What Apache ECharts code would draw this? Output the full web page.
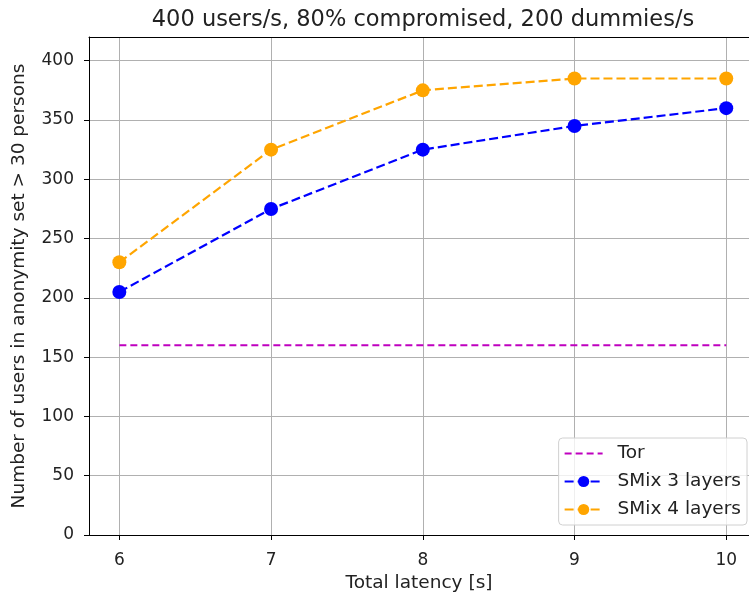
<!DOCTYPE html>
<html>
<head>
<meta charset="utf-8">
<script src="https://cdn.jsdelivr.net/npm/echarts@6/dist/echarts.min.js"></script>
<style>html,body{margin:0;padding:0;background:#fff;overflow:hidden}#c{width:749px;height:596px}</style>
</head>
<body>
<div id="c"></div>
<script>
const latency = [6, 7, 8, 9, 10];
const torValues = [160, 160, 160, 160, 160];
const smix3Values = [205, 275, 325, 345, 360];
const smix4Values = [230, 325, 375, 385, 385];
const xTicks = [6, 7, 8, 9, 10];
const yTicks = [0, 50, 100, 150, 200, 250, 300, 350, 400];

const font = 'DejaVu Sans';
const txt = '#222';
const pairs = v => latency.map((x, i) => [x, v[i]]);

const chart = echarts.init(document.getElementById('c'), null, {renderer: 'canvas'});
chart.setOption({
  animation: false,
  title: {
    text: '400 users/s, 80% compromised, 200 dummies/s',
    left: 418, top: 4, textAlign: 'center',
    textStyle: {fontFamily: font, fontSize: 22.5, fontWeight: 'normal', color: txt}
  },
  grid: {left: 89, right: 0, top: 37, bottom: 61, outerBoundsMode: 'none', show: false},
  xAxis: [{
    type: 'value', min: 5.8, max: 10.15,
    name: 'Total latency [s]', nameLocation: 'middle', nameGap: 38,
    nameTextStyle: {fontFamily: font, fontSize: 18.5, color: txt},
    axisLine: {show: true, onZero: false, lineStyle: {color: '#000', width: 1}},
    axisTick: {show: true, length: 5, lineStyle: {color: '#000'}, customValues: xTicks},
    axisLabel: {customValues: xTicks, fontFamily: font, fontSize: 17, color: txt, margin: 17},
    splitLine: {show: true, lineStyle: {color: '#b0b0b0', width: 1}}
  }, {
    type: 'value', position: 'top', min: 5.8, max: 10.15,
    axisLine: {show: true, onZero: false, lineStyle: {color: '#000', width: 1}},
    axisTick: {show: false}, axisLabel: {show: false}, splitLine: {show: false}
  }],
  yAxis: {
    type: 'value', min: 0, max: 420,
    name: 'Number of users in anonymity set > 30 persons', nameLocation: 'middle', nameGap: 60,
    nameTextStyle: {fontFamily: font, fontSize: 18.5, color: txt},
    axisLine: {show: true, lineStyle: {color: '#000', width: 1}},
    axisTick: {show: true, length: 5, lineStyle: {color: '#000'}, customValues: yTicks},
    axisLabel: {customValues: yTicks, fontFamily: font, fontSize: 17, color: txt, margin: 15},
    splitLine: {show: true, lineStyle: {color: '#b0b0b0', width: 1}}
  },
  legend: {
    orient: 'vertical', right: 2, bottom: 71,
    backgroundColor: 'rgba(255,255,255,0.8)', borderColor: '#d0d0d0', borderWidth: 1, borderRadius: 4,
    padding: [6, 6, 6, 5],
    itemWidth: 38, itemHeight: 14, itemGap: 9,
    textStyle: {fontFamily: font, fontSize: 18.5, color: txt, padding: [0, 0, 0, 10]},
    data: [{name: 'Tor', itemStyle: {opacity: 0}}, 'SMix 3 layers', 'SMix 4 layers']
  },
  series: [
    {name: 'Tor', type: 'line', data: pairs(torValues), showSymbol: false, symbol: 'none',
     lineStyle: {color: '#bf00bf', width: 2, type: [7, 4]}, itemStyle: {color: '#bf00bf'}},
    {name: 'SMix 3 layers', type: 'line', data: pairs(smix3Values), symbol: 'circle', symbolSize: 14,
     lineStyle: {color: '#0000ff', width: 2.2, type: [9, 4]}, itemStyle: {color: '#0000ff'}},
    {name: 'SMix 4 layers', type: 'line', data: pairs(smix4Values), symbol: 'circle', symbolSize: 14,
     lineStyle: {color: '#ffa500', width: 2.2, type: [9, 4]}, itemStyle: {color: '#ffa500'}}
  ]
});
</script>
</body>
</html>
